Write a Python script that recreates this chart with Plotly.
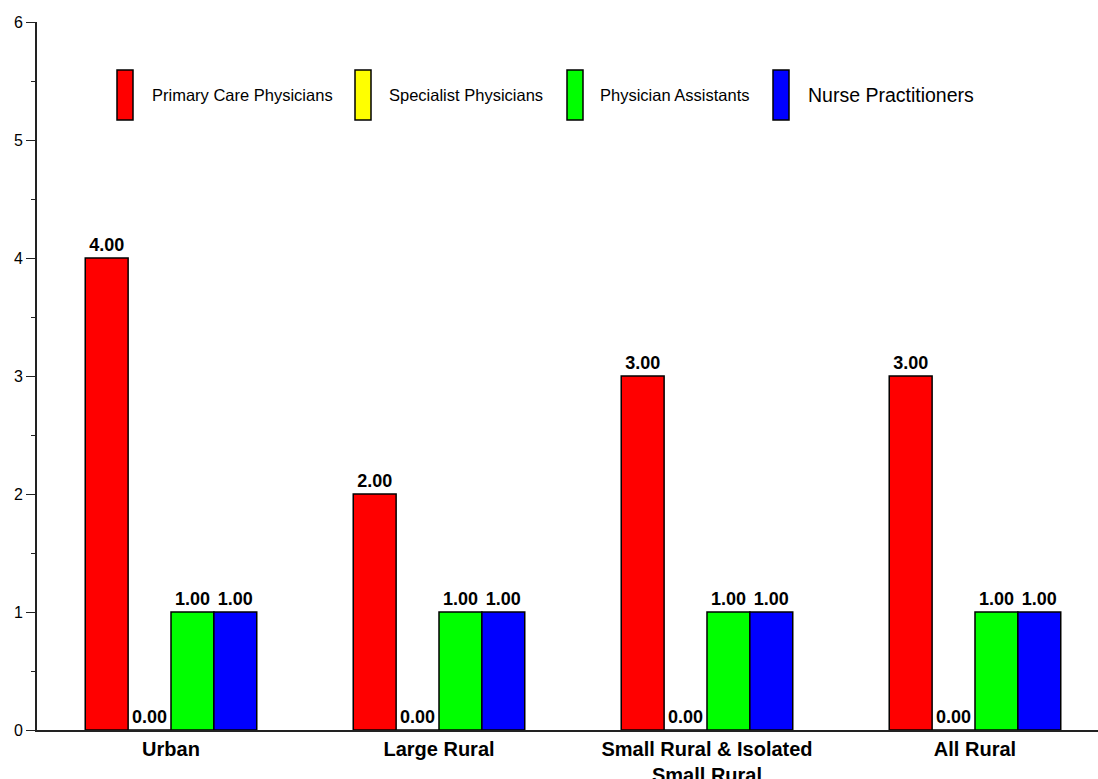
import plotly.graph_objects as go

categories = ["Urban", "Large Rural", "Small Rural & Isolated<br>Small Rural", "All Rural"]
series_names = ["Primary Care Physicians", "Specialist Physicians", "Physician Assistants", "Nurse Practitioners"]
primary_care = [4.0, 2.0, 3.0, 3.0]
specialist = [0.0, 0.0, 0.0, 0.0]
physician_assistants = [1.0, 1.0, 1.0, 1.0]
nurse_practitioners = [1.0, 1.0, 1.0, 1.0]
colors = ["#ff0000", "#ffff00", "#00ff00", "#0000ff"]
y_ticks = [0, 1, 2, 3, 4, 5, 6]

FONT = "Liberation Sans, Arial, Helvetica, sans-serif"

fig = go.Figure()
for name, vals, col in zip(series_names,
                           [primary_care, specialist, physician_assistants, nurse_practitioners],
                           colors):
    fig.add_trace(go.Bar(
        x=categories, y=vals, name=name,
        marker=dict(color=col, line=dict(color="black", width=1.5)),
        text=[f"{v:.2f}" for v in vals],
        textposition="outside",
        textfont=dict(family=FONT, size=18, color="black", weight="bold"),
        cliponaxis=False,
        showlegend=False,
    ))

L, T, B = 37, 22, 49
W, H = 1098, 779
pw = W - L
ph = H - T - B

def px(x):
    return (x - L) / pw

def py(y):
    return (H - B - y) / ph

# custom legend (tall swatches)
legend_items = [
    (117, 150, 16.5),
    (355, 387, 16.5),
    (567, 598, 16.5),
    (773, 806, 19.5),
]
for (sx, tx, fs), name, col in zip(legend_items, series_names, colors):
    fig.add_shape(type="rect", xref="paper", yref="paper",
                  x0=px(sx), x1=px(sx + 16), y0=py(120), y1=py(70),
                  fillcolor=col, line=dict(color="black", width=1.5))
    fig.add_annotation(xref="paper", yref="paper", x=px(tx), y=py(95),
                       text=name, showarrow=False, xanchor="left", yanchor="middle",
                       font=dict(family=FONT, size=fs, color="black"))

fig.update_layout(
    width=W, height=H,
    margin=dict(l=L, r=0, t=T, b=B, pad=0, autoexpand=False),
    paper_bgcolor="white", plot_bgcolor="white",
    barmode="group", bargap=0.36, bargroupgap=0,
    font=dict(family=FONT, color="black"),
    uniformtext=dict(minsize=18, mode="show"),
)
fig.update_xaxes(
    range=[-0.5, 3.459], automargin=False,
    showline=True, linecolor="#222", linewidth=2,
    ticks="", showgrid=False, zeroline=False,
    tickfont=dict(family=FONT, size=20, color="black", weight="bold"),
)
fig.update_yaxes(
    range=[0, 6], automargin=False,
    tickvals=y_ticks, ticktext=[str(v) for v in y_ticks],
    showline=True, linecolor="#222", linewidth=2,
    ticks="outside", ticklen=9, tickwidth=1, tickcolor="#222",
    minor=dict(dtick=0.5, ticks="outside", ticklen=4, tickcolor="#222", tickwidth=1, showgrid=False),
    showgrid=False, zeroline=False,
    tickfont=dict(family=FONT, size=16, color="black"),
)

fig.write_html(
    "out.html",
    config={"displayModeBar": False},
    post_script="document.body.style.margin='0px';document.body.style.overflow='hidden';",
)
